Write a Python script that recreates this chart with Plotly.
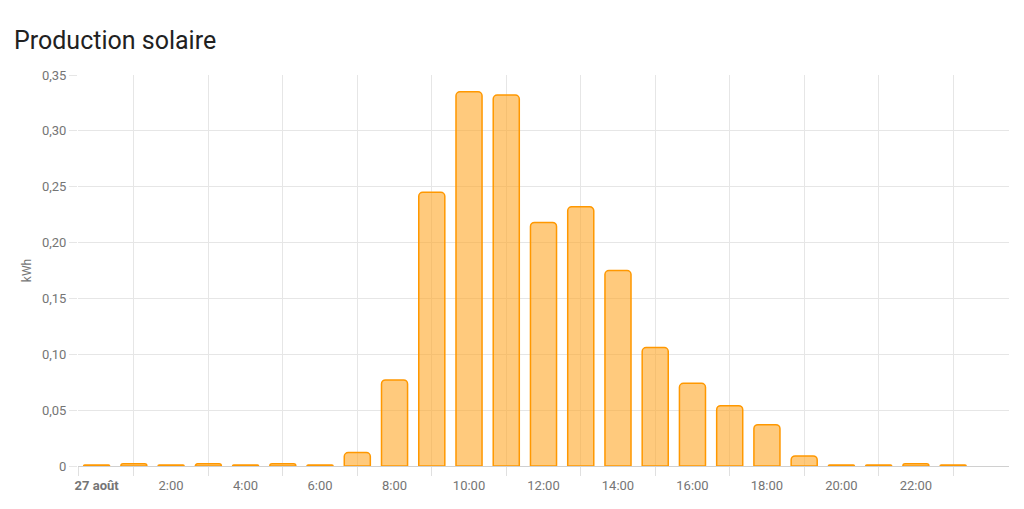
import plotly.graph_objects as go

hours = list(range(24))
values = [0.001, 0.002, 0.001, 0.002, 0.001, 0.002, 0.001, 0.012, 0.077, 0.245,
          0.335, 0.332, 0.218, 0.232, 0.175, 0.106, 0.074, 0.054, 0.037, 0.009,
          0.001, 0.001, 0.002, 0.001]
x_tick_vals = [0, 2, 4, 6, 8, 10, 12, 14, 16, 18, 20, 22]
x_tick_text = ["<b>27 août</b>", "2:00", "4:00", "6:00", "8:00", "10:00", "12:00",
               "14:00", "16:00", "18:00", "20:00", "22:00"]
y_tick_vals = [0, 0.05, 0.10, 0.15, 0.20, 0.25, 0.30, 0.35]
y_tick_text = ["0", "0,05", "0,10", "0,15", "0,20", "0,25", "0,30", "0,35"]

fig = go.Figure()
fig.add_trace(go.Bar(
    x=hours, y=values, width=0.7,
    marker=dict(color="rgba(255,167,38,0.6)", line=dict(color="#ff9800", width=1.5),
                cornerradius=4),
    hovertemplate="%{y} kWh<extra></extra>",
))

fig.update_layout(
    width=1024, height=509,
    paper_bgcolor="white", plot_bgcolor="white",
    margin=dict(l=78, r=15, t=75, b=43),
    font=dict(family="Roboto, sans-serif", color="#757575", size=13),
    title=dict(text="Production solaire", xref="container", x=14/1024, xanchor="left",
               yref="container", y=1-40/509, yanchor="middle",
               font=dict(size=25, color="#212121", family="Roboto, sans-serif")),
    showlegend=False,
)

fig.update_xaxes(
    range=[-0.5, 24.5],
    tickvals=x_tick_vals, ticktext=x_tick_text,
    showgrid=False, ticks="", zeroline=False,
    showline=True, linecolor="#d0d0d0", linewidth=1,
    tickfont=dict(size=13, color="#757575"),
    ticklabelstandoff=7,
    minor=dict(tickvals=[-0.5] + list(range(1, 24, 2)), showgrid=True, gridcolor="#e6e6e6",
               gridwidth=1, ticks="outside", ticklen=9, tickcolor="#e0e0e0"),
    fixedrange=True,
)
fig.update_yaxes(
    range=[0, 0.35],
    tickvals=y_tick_vals, ticktext=y_tick_text,
    showgrid=True, gridcolor="#e6e6e6", gridwidth=1,
    ticks="outside", ticklen=8, tickcolor="#e6e6e6",
    zeroline=False, showline=False,
    title=dict(text="kWh", font=dict(size=12, color="#757575"), standoff=7),
    tickfont=dict(size=13, color="#757575"),
    fixedrange=True,
)

fig.write_html("out.html", config={"displayModeBar": False},
               post_script="document.body.style.margin='0';")
